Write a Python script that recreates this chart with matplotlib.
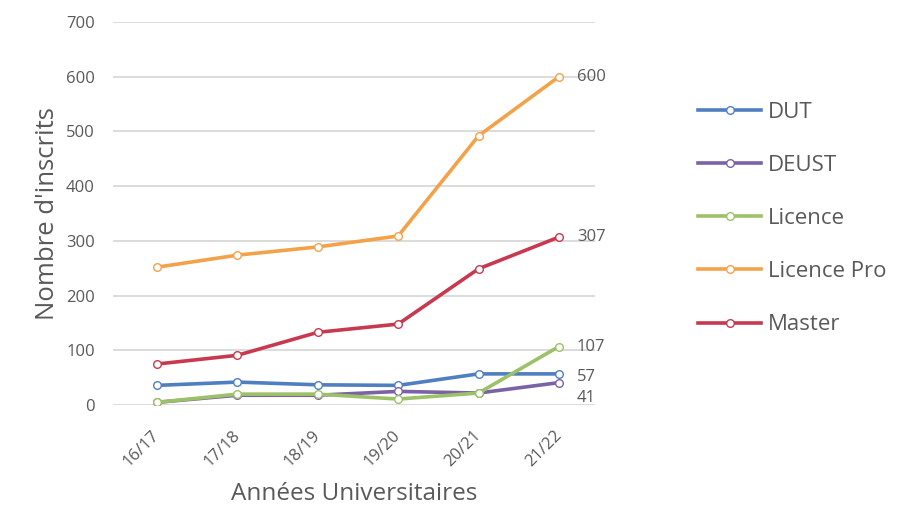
import matplotlib
matplotlib.use("Agg")
import matplotlib.pyplot as plt
from matplotlib.transforms import ScaledTranslation

years = ["16/17", "17/18", "18/19", "19/20", "20/21", "21/22"]
dut = [36, 42, 37, 36, 57, 57]
deust = [5, 18, 18, 25, 22, 41]
licence = [5, 20, 20, 11, 22, 107]
licence_pro = [252, 274, 289, 309, 492, 600]
master = [75, 91, 133, 148, 249, 307]

series = [
    ("DUT", dut, "#4f7fc0"),
    ("DEUST", deust, "#7a62a6"),
    ("Licence", licence, "#9dc168"),
    ("Licence Pro", licence_pro, "#f4a24a"),
    ("Master", master, "#c8394f"),
]
end_labels = {"DUT": 57, "DEUST": 41, "Licence": 107, "Licence Pro": 600, "Master": 307}

plt.rcParams['font.family'] = ['Open Sans', 'DejaVu Sans']
txt = "#595959"

fig = plt.figure(figsize=(9.03, 5.18), dpi=100)
ax = fig.add_axes([0.125, 0.218, 0.534, 0.7395])
x = list(range(len(years)))
for name, vals, col in series:
    ax.plot(x, vals, color=col, lw=2.6, marker="o", ms=5.5, mfc="white",
            mec=col, mew=1.0, label=name, zorder=3)

for name, vals, col in series:
    v = vals[-1]
    dy = 0
    if name == "DEUST":
        dy = -11
    if name == "DUT":
        dy = -2
    ax.annotate(str(end_labels[name]), xy=(x[-1], v), xytext=(13, dy),
                textcoords="offset points", va="center", ha="left",
                fontsize=12, color=txt)

ax.set_xlim(-0.55, 5.45)
ax.set_ylim(0, 700)
ax.set_yticks(range(0, 701, 100))
ax.set_xticks(x)
ax.set_xticklabels(years, rotation=45, ha="right", va="center",
                   rotation_mode="anchor", fontsize=13)
off = ScaledTranslation(6 / 100, 0, fig.dpi_scale_trans)
for lab in ax.get_xticklabels():
    lab.set_transform(lab.get_transform() + off)
ax.grid(axis="y", color="#d9d9d9", lw=1.3)
ax.set_axisbelow(True)
for s in ax.spines.values():
    s.set_visible(False)
ax.tick_params(length=0, colors=txt, labelsize=12)
ax.tick_params(axis="y", pad=13)
ax.tick_params(axis="x", pad=20)
ax.set_ylabel("Nombre d'inscrits", fontsize=18.5, color=txt, labelpad=4)
ax.set_xlabel("Années Universitaires", fontsize=17.5, color=txt, labelpad=9)

leg = fig.legend(loc="upper left", bbox_to_anchor=(0.773, 0.804), frameon=False,
                 fontsize=16, handlelength=2.85, labelspacing=1.45,
                 handletextpad=0.3, labelcolor=txt, borderaxespad=0, borderpad=0)

fig.savefig("out.png", dpi=100, facecolor="white")
